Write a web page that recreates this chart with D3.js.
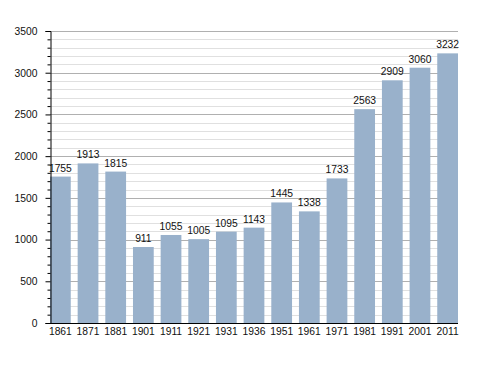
<!DOCTYPE html>
<html><head><meta charset="utf-8">
<script src="https://cdn.jsdelivr.net/npm/d3@7"></script>
<style>body{margin:0;background:#fff}svg{display:block}text{font-family:"Liberation Sans",Arial,sans-serif}</style>
</head><body>
<script>
const years = ["1861","1871","1881","1901","1911","1921","1931","1936","1951","1961","1971","1981","1991","2001","2011"];
const population = [1755,1913,1815,911,1055,1005,1095,1143,1445,1338,1733,2563,2909,3060,3232];
const yMajorTicks = [0,500,1000,1500,2000,2500,3000,3500];

(function(){
const W=488,H=373, mLeft=50, mRight=458, mTop=31, mBottom=323;
const FS=10.3;
const svg=d3.select("body").append("svg").attr("width",W).attr("height",H);
const x=d3.scaleBand().domain(years).range([mLeft,mRight]).paddingInner(0.25).paddingOuter(0);
const y=d3.scaleLinear().domain([0,3500]).range([mBottom,mTop]);
const minor=d3.range(0,3501,100).filter(v=>v%500!==0);

svg.append("g").selectAll("line").data(minor).join("line")
 .attr("x1",mLeft).attr("x2",mRight).attr("y1",d=>Math.round(y(d))+0.5).attr("y2",d=>Math.round(y(d))+0.5)
 .attr("stroke","#e0e0e0").attr("stroke-width",1);
svg.append("g").selectAll("line").data(yMajorTicks.filter(v=>v>0)).join("line")
 .attr("x1",mLeft).attr("x2",mRight).attr("y1",d=>Math.round(y(d))+0.5).attr("y2",d=>Math.round(y(d))+0.5)
 .attr("stroke","#b0b0b0").attr("stroke-width",1);

svg.append("g").selectAll("rect").data(population).join("rect")
 .attr("x",(d,i)=>x(years[i])).attr("width",x.bandwidth())
 .attr("y",d=>y(d)).attr("height",d=>y(0)-y(d)).attr("fill","#99b1cb");

svg.append("g").selectAll("text").data(population).join("text")
 .attr("x",(d,i)=>x(years[i])+x.bandwidth()/2).attr("y",d=>y(d)-5)
 .attr("text-anchor","middle").attr("font-size",FS).attr("fill","#111").text(d=>d);

// y axis
const ya=svg.append("g").attr("transform",`translate(${mLeft+0.5},0)`);
ya.append("g").call(d3.axisLeft(y).tickValues(minor).tickSize(3).tickFormat("")).select(".domain").remove();
const yb=ya.append("g").call(d3.axisLeft(y).tickValues(yMajorTicks).tickSize(5).tickPadding(8).tickFormat(d3.format("d")));
yb.selectAll("text").attr("font-size",FS).attr("fill","#111").attr("font-family","Liberation Sans, Arial, sans-serif");
ya.selectAll("line").attr("stroke","#000");
ya.selectAll(".domain").attr("stroke","#000");

// x axis
const xa=svg.append("g").attr("transform",`translate(0,${mBottom+0.5})`)
 .call(d3.axisBottom(x).tickSize(0).tickPadding(4));
xa.select(".domain").attr("stroke","#000").attr("d",`M${mLeft},0H${mRight}`);
xa.selectAll("text").attr("font-size",FS).attr("fill","#111").attr("font-family","Liberation Sans, Arial, sans-serif");
})();
</script>
</body></html>
